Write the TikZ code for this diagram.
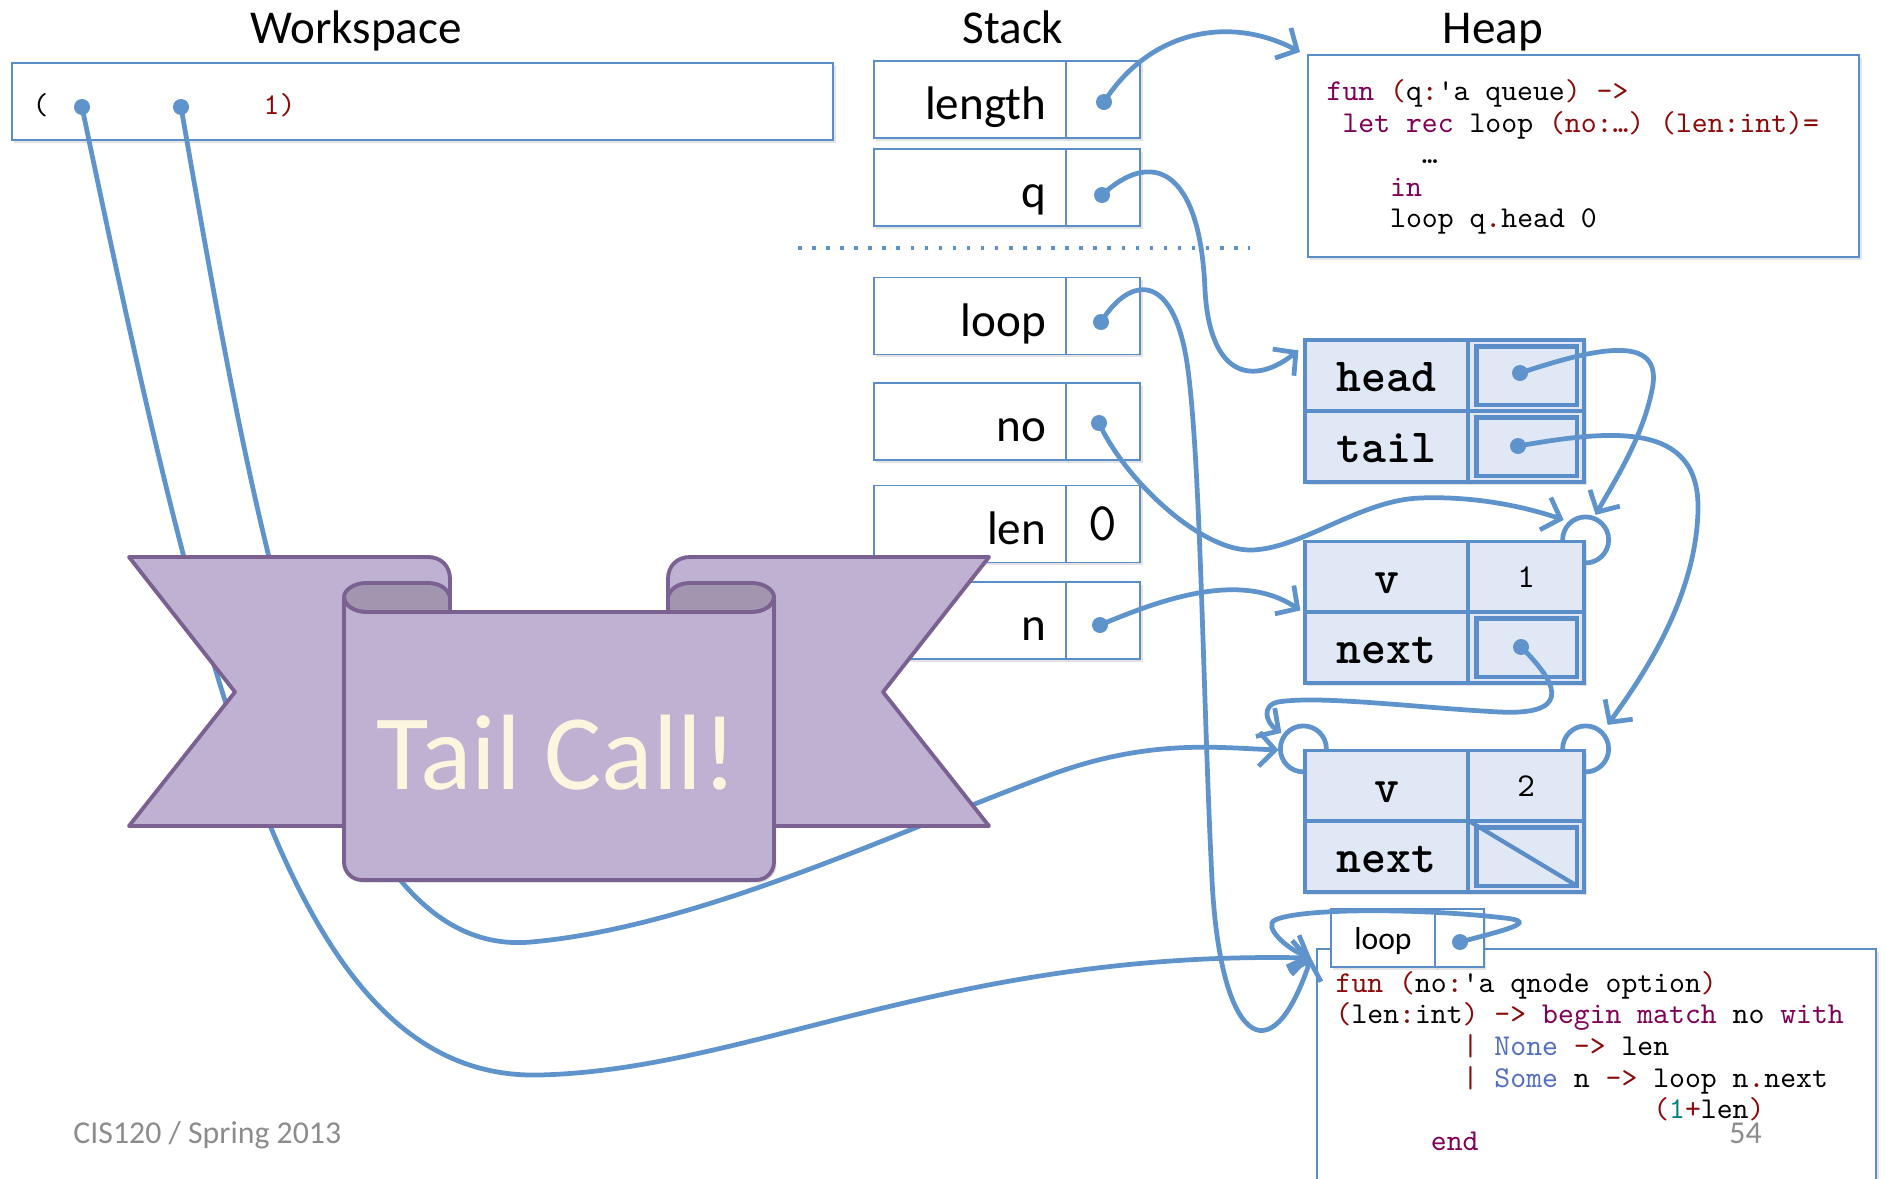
\documentclass[tikz,border=0pt]{standalone}
\usepackage{fontspec}
\setmainfont{Carlito}
\setmonofont{lmmono10-regular.otf}
\newfontfamily\fieldfont{lmmonolt10-bold.otf}
\usetikzlibrary{arrows.meta,calc,shadows,backgrounds}

\definecolor{wireblue}{HTML}{5E93CB}
\definecolor{boxline}{HTML}{5B8DC8}
\definecolor{cellfill}{HTML}{DFE8F4}
\definecolor{ocred}{HTML}{8B0A0A}
\definecolor{ocpurple}{HTML}{7F0055}
\definecolor{occon}{HTML}{5470C0}
\definecolor{octeal}{HTML}{008080}
\definecolor{ribbonfill}{HTML}{BFB1D1}
\definecolor{ribbonline}{HTML}{7A6192}
\definecolor{ribbonback}{HTML}{A295B0}
\definecolor{ribbontext}{HTML}{FCF6DE}
\definecolor{footgrey}{HTML}{8C8C8C}

\newcommand{\ocr}[1]{\textcolor{ocred}{#1}}
\newcommand{\ocp}[1]{\textcolor{ocpurple}{#1}}
\newcommand{\ocb}[1]{\textcolor{occon}{#1}}
\newcommand{\oct}[1]{\textcolor{octeal}{#1}}
% n blank columns of the mono font
\newcommand{\ind}[1]{\hspace*{#1\fontcharwd\font`\x}}

\begin{document}
\begin{tikzpicture}[
        x=0.01cm,
        y=-0.01cm,
        every node/.style={font=\fontsize{13.4}{16}\selectfont},
        heading/.style={anchor=base},
        boxshadow/.style={drop shadow={shadow xshift=0.7pt, shadow yshift=-0.8pt, opacity=0.22}},
        whitebox/.style={
            draw=boxline,
            line width=0.5pt,
            fill=white,
            boxshadow,
            inner sep=0pt
        },
        stackname/.style={
            whitebox,
            minimum height=0.77cm,
            text width=1.52cm,
            inner xsep=0.2cm,
            align=right,
            text height=11.4pt,
            text depth=0pt
        },
        stackval/.style={
            whitebox,
            minimum width=0.74cm,
            minimum height=0.77cm,
            text height=9.6pt,
            text depth=0pt,
            font=\ttfamily\fontsize{15.5}{17}\selectfont
        },
        field/.style={
            draw=boxline,
            line width=0.9pt,
            fill=cellfill,
            boxshadow,
            minimum height=0.71cm,
            inner sep=0pt,
            text height=9.1pt,
            text depth=0pt,
            font=\fieldfont\fontsize{13.5}{15}\selectfont
        },
        fieldname/.style={field, minimum width=1.63cm},
        fieldval/.style={field, minimum width=1.16cm},
        numtext/.style={font=\ttfamily\fontsize{9.5}{11}\selectfont, text height=6.2pt},
        ptrbox/.style={draw=boxline, line width=1.2pt},
        codeline/.style={anchor=base west, inner sep=0pt, font=\ttfamily\fontsize{8.6}{10}\selectfont},
        ptrdot/.style={circle, fill=wireblue, minimum size=1.6mm, inner sep=0pt},
        wire/.style={draw=wireblue, line width=1.35pt, line cap=round,
            -{Straight Barb[length=1.6mm, width=3.4mm]}},
        ring/.style={draw=wireblue, line width=1.35pt},
        ribbon/.style={fill=ribbonfill, draw=ribbonline, line width=1.1pt, line join=round}
    ]
    \useasboundingbox (0,0) rectangle (1885,1178);

    % Column headings
    \node[heading] (hWork) at (356,43) {Workspace};
    \node[heading] (hStack) at (1013,43) {Stack};
    \node[heading] (hHeap) at (1493,43) {Heap};

    % Workspace
    \node[whitebox, anchor=north west, minimum width=8.21cm, minimum height=0.77cm]
        (work) at (11,62) {};
    \node[codeline] (wsOpen) at (32,114) {(};
    \node[codeline, text=ocred] (wsOne) at (263,114) {1)};

    % Stack frames: name cell + value cell
    \foreach \nm/\lbl/\y/\val in {Length/length/99.5/{}, Q/q/187.5/{},
            Loop/loop/316/{}, No/no/421.5/{}, Len/len/524/0, N/n/620.5/{}} {
        \node[stackname] (s\nm) at (970,\y) {\lbl};
        \node[stackval] (v\nm) at (1103,\y) {\val};
    }
    \draw[draw=wireblue, line width=1.4pt, dash pattern=on 1pt off 3pt]
        (798,248) -- (1250,248);

    % Heap: closure for length
    \node[whitebox, anchor=north west, minimum width=5.51cm, minimum height=2.02cm]
        (codeA) at (1307,54) {};
    \foreach \n/\y/\txt in {
        1/100/{\ocp{fun} \ocr{(}q\ocr{:}'a queue\ocr{)} \ocr{->}},
        2/132/{\ind{1}\ocp{let rec} loop \ocr{(no:…)} \ocr{(len:int)=}},
        3/163/{\ind{6}…},
        4/196/{\ind{4}\ocp{in}},
        5/227/{\ind{4}loop q\ocr{.}head 0}}
        \node[codeline] (la\n) at (1326,\y) {\txt};

    % Heap: queue record
    \node[fieldname] (qHeadL) at (1386.5,375.5) {head};
    \node[fieldval]  (qHeadP) at (1526,375.5) {};
    \node[fieldname] (qTailL) at (1386.5,446.5) {tail};
    \node[fieldval]  (qTailP) at (1526,446.5) {};

    % Heap: the two qnodes
    \foreach \nm/\y/\val in {One/577/1, Two/786/2} {
        \node[fieldname] (val\nm) at (1386.5,\y) {v};
        \node[fieldval, numtext] (num\nm) at (1526,\y) {\val};
        \node[fieldname] (nxt\nm) at (1386.5,\y+70.5) {next};
        \node[fieldval] (ptr\nm) at (1526,\y+70.5) {};
    }
    \foreach \c in {qHeadP,qTailP,ptrOne,ptrTwo}
        \draw[ptrbox] ($(\c.north west)+(10,8)$) rectangle ($(\c.south east)+(-9,-8)$);
    % None
    \draw[ptrbox] (ptrTwo.north west) -- ($(ptrTwo.south east)+(-9,-8)$);

    % Heap: closure for loop, with its saved environment
    \node[whitebox, anchor=north west, minimum width=5.59cm, minimum height=2.6cm]
        (codeB) at (1316,948) {};
    \foreach \n/\y/\txt in {
        1/992/{\ocr{fun} \ocr{(}no\ocr{:}'a qnode option\ocr{)}},
        2/1023/{\ocr{(}len\ocr{:}int\ocr{)} \ocr{->} \ocp{begin match} no \ocp{with}},
        3/1055/{\ind{8}\ocr{|} \ocb{None} \ocr{->} len},
        4/1087/{\ind{8}\ocr{|} \ocb{Some} n \ocr{->} loop n\ocr{.}next},
        5/1118/{\ind{20}\ocr{(}\oct{1}\ocr{+}len\ocr{)}},
        6/1150/{\ind{6}\ocp{end}}}
        \node[codeline] (lb\n) at (1335,\y) {\txt};
    \node[whitebox, minimum width=1.04cm, minimum height=0.58cm, text height=6.8pt,
        text depth=0pt, font=\fontsize{9}{11}\selectfont] (recName) at (1383,938) {loop};
    \node[whitebox, minimum width=0.49cm, minimum height=0.58cm] (recPtr) at (1459.5,938) {};

    % arrival rings on the qnodes
    \coordinate (ringA) at (numOne.north east);
    \coordinate (ringB) at (valTwo.north west);
    \coordinate (ringC) at (numTwo.north east);
    \begin{scope}[on background layer]
        \foreach \r in {ringA,ringB,ringC}
            \draw[ring] (\r) circle[radius=0.23cm];
    \end{scope}

    % arrow targets
    \coordinate (tipA) at ($(codeA.north west)+(-7,-2)$);
    \coordinate (tipQ) at ($(qHeadL.north west)+(-5,12)$);
    \coordinate (tipN) at ($(nxtOne.north west)+(-3,0)$);
    \coordinate (tipIn) at ($(codeB.north west)+(-5,10)$);
    \coordinate (tipHead) at ($(ringA)+(10,-25)$);
    \coordinate (tipNo) at ($(ringA)+(-22,-20)$);
    \coordinate (tipTail) at ($(ringC)+(22,-24)$);
    \coordinate (tipNext) at ($(ringB)+(-22,-16)$);
    \coordinate (tipTwo) at ($(ringB)+(-25,1)$);

    % pointer dots
    \node[ptrdot] (wsA) at (82,107) {};
    \node[ptrdot] (wsB) at (181,107) {};
    \node[ptrdot] (dLength) at (1104,102) {};
    \node[ptrdot] (dQ) at (1102,195) {};
    \node[ptrdot] (dLoop) at (1101,322) {};
    \node[ptrdot] (dNo) at (1099,423) {};
    \node[ptrdot] (dN) at (1100,625) {};
    \node[ptrdot] (dHead) at (1520,373) {};
    \node[ptrdot] (dTail) at (1518,446) {};
    \node[ptrdot] (dNext) at (1521,647) {};
    \node[ptrdot] (dRec) at (1460,942) {};

    % pointers
    \draw[wire] (dLength.center) .. controls (1150,30) and (1230,15) .. (tipA);
    \draw[wire] (dQ.center) .. controls (1150,150) and (1200,165) .. (1205,290)
        .. controls (1210,380) and (1255,385) .. (tipQ);
    \draw[wire] (dLoop.center) .. controls (1130,275) and (1175,270) .. (1188,370)
        .. controls (1201,470) and (1203,700) .. (1212,880)
        .. controls (1220,1040) and (1270,1080) .. (tipIn);
    \draw[wire] (dNo.center) .. controls (1125,480) and (1200,550) .. (1250,550)
        .. controls (1300,550) and (1360,500) .. (1420,498)
        .. controls (1470,496) and (1520,505) .. (tipNo);
    \draw[wire] (dN.center) .. controls (1160,600) and (1240,570) .. (tipN);
    \draw[wire] (dHead.center) .. controls (1590,350) and (1665,330) .. (1652,390)
        .. controls (1642,440) and (1612,485) .. (tipHead);
    \draw[wire] (dTail.center) .. controls (1610,430) and (1700,420) .. (1698,510)
        .. controls (1696,600) and (1640,680) .. (tipTail);
    \draw[wire] (dNext.center) .. controls (1565,690) and (1565,715) .. (1500,712)
        .. controls (1420,708) and (1320,695) .. (1278,702)
        .. controls (1262,705) and (1265,722) .. (tipNext);
    \draw[wire] (dRec.center) .. controls (1505,930) and (1540,922) .. (1505,918)
        .. controls (1420,908) and (1300,908) .. (1275,920)
        .. controls (1263,926) and (1285,948) .. (tipIn);
    \draw[wire] (wsA.center) .. controls (210,720) and (300,1080) .. (539,1075)
        .. controls (750,1070) and (950,950) .. (tipIn);
    \draw[wire] (wsB.center) .. controls (260,560) and (330,960) .. (531,942)
        .. controls (700,927) and (900,830) .. (1050,775)
        .. controls (1150,738) and (1220,748) .. (tipTwo);

    % Tail call banner
    \filldraw[ribbon] (129,557) -- (428,557) .. controls (441,557) and (450,566) .. (450,579)
        -- (450,826) -- (129,826) -- (235,692) -- cycle;
    \filldraw[ribbon] (989,557) -- (690,557) .. controls (677,557) and (668,566) .. (668,579)
        -- (668,826) -- (989,826) -- (883,692) -- cycle;
    \filldraw[ribbon, fill=ribbonback] (450,612) -- (450,597)
        .. controls (448,589) and (440,583) .. (428,583) -- (366,583)
        .. controls (354,583) and (344,590) .. (344,597)
        .. controls (344,605) and (354,612) .. (366,612) -- cycle;
    \filldraw[ribbon, fill=ribbonback] (668,612) -- (668,597)
        .. controls (670,589) and (678,583) .. (690,583) -- (752,583)
        .. controls (764,583) and (774,590) .. (774,597)
        .. controls (774,605) and (764,612) .. (752,612) -- cycle;
    \filldraw[ribbon, boxshadow] (344,597) -- (344,862) .. controls (344,872) and (352,880) .. (362,880)
        -- (756,880) .. controls (766,880) and (774,872) .. (774,862) -- (774,597)
        .. controls (774,605) and (764,612) .. (752,612) -- (366,612)
        .. controls (354,612) and (344,605) .. (344,597) -- cycle;
    \node[anchor=base, text=ribbontext, font=\fontsize{30.5}{36}\selectfont]
        (tailCall) at (557,789) {Tail Call!};

    % footer
    \node[anchor=base west, text=footgrey, font=\fontsize{9.05}{11}\selectfont]
        (course) at (61,1143) {CIS120 / Spring 2013};
    \node[anchor=base west, text=footgrey, font=\fontsize{9.05}{11}\selectfont]
        (pageNo) at (1717,1143) {54};

\end{tikzpicture}
\end{document}
